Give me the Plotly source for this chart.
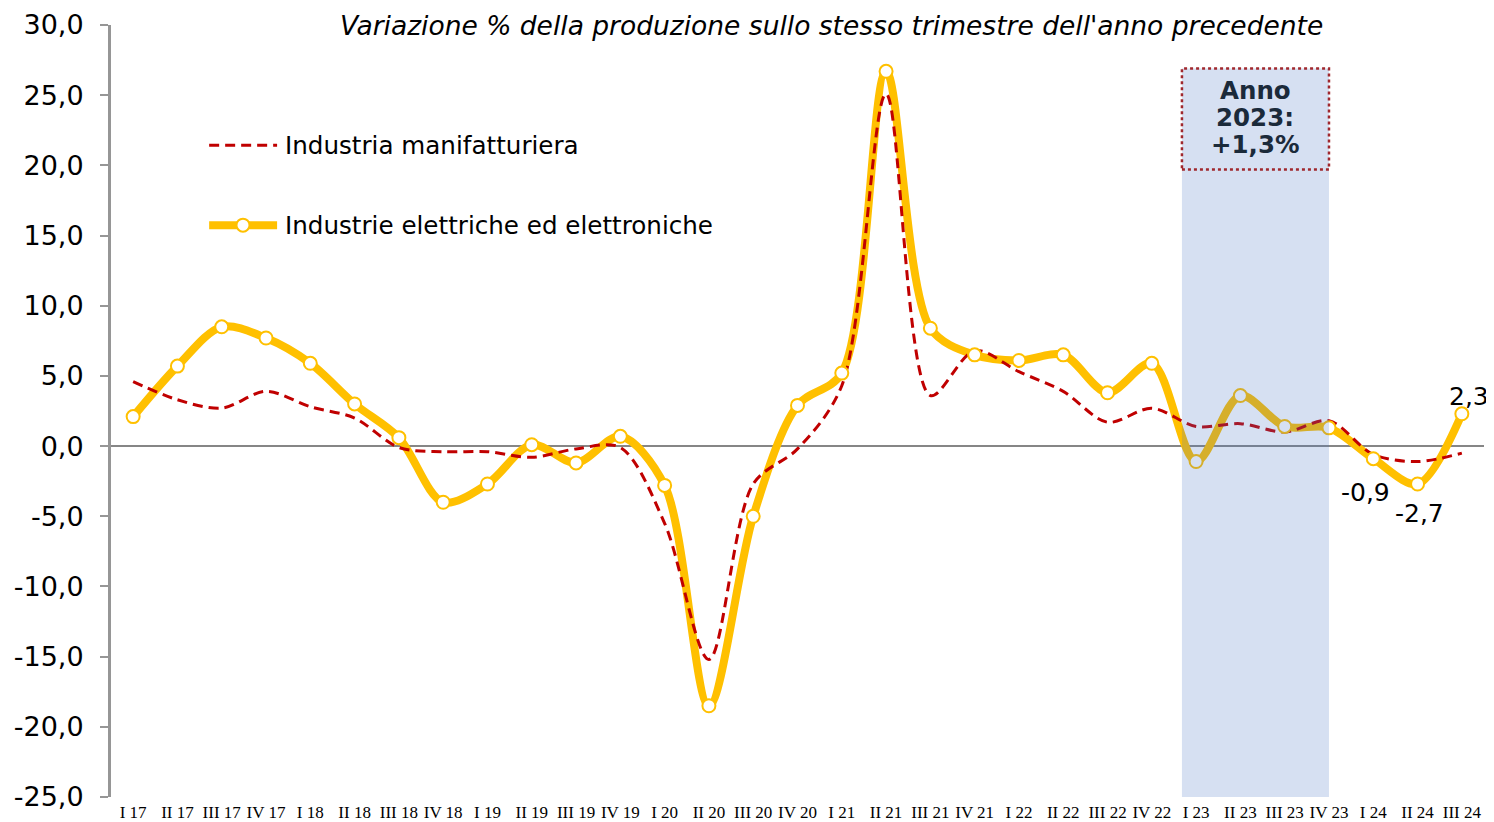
import plotly.graph_objects as go

categories = ["I 17", "II 17", "III 17", "IV 17", "I 18", "II 18", "III 18", "IV 18",
              "I 19", "II 19", "III 19", "IV 19", "I 20", "II 20", "III 20", "IV 20",
              "I 21", "II 21", "III 21", "IV 21", "I 22", "II 22", "III 22", "IV 22",
              "I 23", "II 23", "III 23", "IV 23", "I 24", "II 24", "III 24"]

elettr = [2.1, 5.7, 8.5, 7.7, 5.9, 3.0, 0.6, -4.0, -2.7, 0.1, -1.2, 0.7, -2.8, -18.5, -5.0, 2.9,
          5.2, 26.7, 8.4, 6.5, 6.1, 6.5, 3.8, 5.9, -1.1, 3.6, 1.4, 1.3, -0.9, -2.7, 2.3]

manif = [4.6, 3.3, 2.7, 3.9, 2.8, 2.0, -0.1, -0.4, -0.4, -0.8, -0.2, -0.1, -5.5, -15.2, -2.7, -0.2,
         4.3, 25.1, 3.6, 6.8, 5.3, 3.9, 1.7, 2.7, 1.4, 1.6, 1.0, 1.8, -0.6, -1.1, -0.5]

y_ticks = [-25, -20, -15, -10, -5, 0, 5, 10, 15, 20, 25, 30]

name_manif = "Industria manifatturiera"
name_elettr = "Industrie elettriche ed elettroniche"
title_text = "Variazione % della produzione sullo stesso trimestre dell'anno precedente"
box_lines = ["Anno", "2023:", "+1,3%"]
labelled = {"III 24": "top", "I 24": "left", "II 24": "bottom"}

YELLOW = "#FFC000"
RED = "#C00000"
FONT = "DejaVu Sans"
RED_DASH = "10px,6px"


def fmt(v):
    return f"{v:.1f}".replace(".", ",")


fig = go.Figure()

fig.add_trace(go.Scatter(x=categories, y=elettr, mode="lines", name=name_elettr,
                         line=dict(color=YELLOW, width=8, shape="spline", smoothing=0.9),
                         showlegend=False, hoverinfo="skip"))
fig.add_trace(go.Scatter(x=categories, y=manif, mode="lines", name=name_manif,
                         line=dict(color=RED, width=3, dash=RED_DASH, shape="spline", smoothing=0.9),
                         showlegend=False))
fig.add_trace(go.Scatter(x=categories, y=elettr, mode="markers", name=name_elettr,
                         marker=dict(color="white", size=13, line=dict(color=YELLOW, width=2)),
                         showlegend=False))

# shaded 2023 band (drawn above the lines, translucent)
fig.add_shape(type="rect", xref="x", yref="y", x0=23.68, x1=27.0, y0=-25, y1=26.9,
              fillcolor="rgba(68,114,196,0.22)", line=dict(width=0), layer="above")
fig.add_shape(type="rect", xref="x", yref="y", x0=23.68, x1=27.0, y0=19.7, y1=26.9,
              fillcolor="rgba(0,0,0,0)", line=dict(color="#A0282E", width=2.5, dash="dot"),
              layer="above")
for txt, yv in zip(box_lines, [25.36, 23.43, 21.51]):
    fig.add_annotation(x=25.34, y=yv, xref="x", yref="y", text="<b>" + txt + "</b>",
                       showarrow=False, font=dict(family=FONT, size=24.5, color="#1B2A3A"),
                       align="center")

# data labels
for cat, pos in labelled.items():
    i = categories.index(cat)
    v = elettr[i]
    if pos == "top":
        xs, ys = 7, 17
    elif pos == "left":
        xs, ys = -8, -34
    else:
        xs, ys = 2, -30
    fig.add_annotation(x=cat, y=v, text=fmt(v), showarrow=False, yshift=ys, xshift=xs,
                       font=dict(family=FONT, size=25, color="black"))

# manual legend
fig.add_shape(type="line", xref="x", yref="y", x0=1.716, x1=3.25, y0=21.44, y1=21.44,
              line=dict(color=RED, width=3, dash=RED_DASH))
fig.add_shape(type="line", xref="x", yref="y", x0=1.716, x1=3.25, y0=15.74, y1=15.74,
              line=dict(color=YELLOW, width=8))
fig.add_shape(type="circle", xref="x", yref="y", xsizemode="pixel", ysizemode="pixel",
              xanchor=2.48, yanchor=15.74, x0=-6.5, x1=6.5, y0=-6.5, y1=6.5,
              fillcolor="white", line=dict(color=YELLOW, width=2))
fig.add_annotation(x=3.39, y=21.44, xref="x", yref="y", text=name_manif, showarrow=False,
                   xanchor="left", font=dict(family=FONT, size=24.6, color="black"))
fig.add_annotation(x=3.39, y=15.74, xref="x", yref="y", text=name_elettr, showarrow=False,
                   xanchor="left", font=dict(family=FONT, size=24.6, color="black"))

# title
fig.add_annotation(x=0.884, y=1, xref="paper", yref="paper", text="<i>" + title_text + "</i>",
                   showarrow=False, xanchor="right", yanchor="middle", yshift=0,
                   font=dict(family=FONT, size=26.5, color="black"))

# page body has an 8px margin: size/margins compensate so the plot lands where the reference has it
fig.update_layout(
    width=1486, height=814,
    margin=dict(l=103, r=10, t=17, b=25),
    plot_bgcolor="white", paper_bgcolor="white",
    showlegend=False,
    xaxis=dict(range=[-0.5, 30.5], showgrid=False, showline=False, zeroline=False,
               ticks="", tickfont=dict(family="Liberation Serif", size=17, color="black"),
               ticklabelstandoff=3,
               tickangle=0, type="category", automargin=False),
    yaxis=dict(range=[-25, 30], tickvals=y_ticks, ticktext=[fmt(t) for t in y_ticks],
               showgrid=False, automargin=False,
               showline=True, linecolor="#969696", linewidth=3,
               ticks="outside", ticklen=8, tickwidth=2, tickcolor="#969696",
               ticklabelstandoff=11,
               zeroline=True, zerolinecolor="#868686", zerolinewidth=2,
               tickfont=dict(family=FONT, size=27, color="black")),
)

fig.write_html("out.html")
